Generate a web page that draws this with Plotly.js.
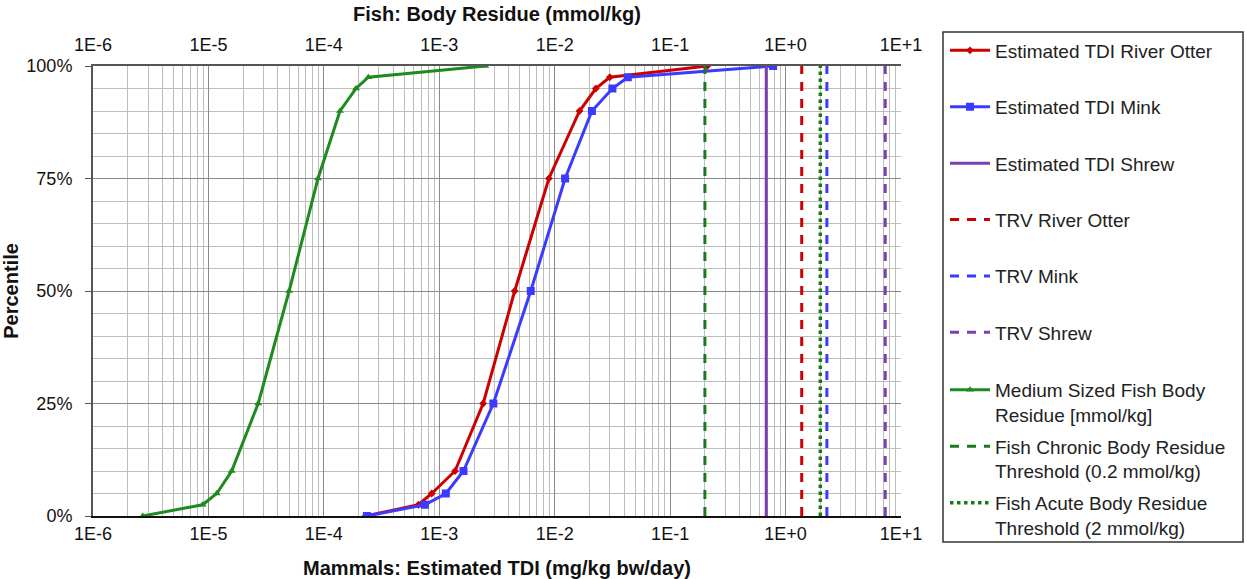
<!DOCTYPE html>
<html><head><meta charset="utf-8">
<script src="https://cdn.plot.ly/plotly-3.0.1.min.js"></script>
<style>html,body{margin:0;padding:0;background:#fff}#chart{width:1247px;height:579px}</style>
</head><body><div id="chart"></div>
<script>
// Percentiles (y) for the distributions
const percentiles = [0, 0.025, 0.05, 0.10, 0.25, 0.50, 0.75, 0.90, 0.95, 0.975, 1.0];
// Mammals: Estimated TDI (mg/kg bw/day)
const otterTDI = [2.3e-4, 6.6e-4, 8.6e-4, 1.37e-3, 2.4e-3, 4.5e-3, 8.9e-3, 1.64e-2, 2.27e-2, 3.0e-2, 0.21];
const minkTDI  = [2.36e-4, 7.5e-4, 1.14e-3, 1.62e-3, 2.94e-3, 6.2e-3, 1.23e-2, 2.1e-2, 3.16e-2, 4.3e-2, 0.78];
const shrewTDI = [0.68, 0.68];
// Fish: Body residue (mmol/kg)
const fishResidue = [2.7e-6, 8.9e-6, 1.18e-5, 1.59e-5, 2.7e-5, 5.0e-5, 8.9e-5, 1.38e-4, 1.9e-4, 2.43e-4, 2.5e-3];
// Vertical reference lines span 0%..100%
const lineSpan = [0, 1];
const trvOtter = [1.38, 1.38];
const trvMink = [2.28, 2.28];
const trvShrew = [7.3, 7.3];
const fishChronic = [0.2, 0.2];
const fishAcute = [2, 2];
// Axis tick labels
const xTickVals = [1e-6, 1e-5, 1e-4, 1e-3, 1e-2, 1e-1, 1, 10];
const xTickText = ["1E-6", "1E-5", "1E-4", "1E-3", "1E-2", "1E-1", "1E+0", "1E+1"];
const yTickVals = [0, 0.25, 0.5, 0.75, 1.0];
const yTickText = ["0%", "25%", "50%", "75%", "100%"];

const minorVals = [];
for (let e = -6; e < 1; e++) for (let d = 2; d <= 9; d++) minorVals.push(d * Math.pow(10, e));

const RED = '#cc0000', BLUE = '#3b3bff', PURPLE = '#7a3fb0', GREEN = '#1f8a1f', DGREEN = '#1a7a1a';
const FONT = '"Liberation Sans", Arial, sans-serif';
const dashPat = '9px,8px';

const traces = [
  {name: 'Estimated TDI River Otter', x: otterTDI, y: percentiles, mode: 'lines+markers',
   line: {color: RED, width: 3}, marker: {symbol: 'diamond', size: 6, color: RED}, legendgroup: 'a'},
  {name: 'Estimated TDI Mink', x: minkTDI, y: percentiles, mode: 'lines+markers',
   line: {color: BLUE, width: 3}, marker: {symbol: 'square', size: 8, color: BLUE}, legendgroup: 'b'},
  {name: 'Estimated TDI Shrew', x: shrewTDI, y: lineSpan, mode: 'lines',
   line: {color: PURPLE, width: 3}, legendgroup: 'c'},
  {name: 'TRV River Otter', x: trvOtter, y: lineSpan, mode: 'lines',
   line: {color: RED, width: 3, dash: dashPat}, legendgroup: 'd'},
  {name: 'TRV Mink', x: trvMink, y: lineSpan, mode: 'lines',
   line: {color: BLUE, width: 3, dash: dashPat}, legendgroup: 'e'},
  {name: 'TRV Shrew', x: trvShrew, y: lineSpan, mode: 'lines',
   line: {color: PURPLE, width: 3, dash: dashPat}, legendgroup: 'f'},
  {name: 'Medium Sized Fish Body<br>Residue [mmol/kg]', x: fishResidue, y: percentiles, mode: 'lines+markers', xaxis: 'x2',
   line: {color: GREEN, width: 3}, marker: {symbol: 'triangle-up', size: 7, color: GREEN}, legendgroup: 'g', legend: 'legend2'},
  {name: 'Fish Chronic Body Residue<br>Threshold (0.2 mmol/kg)', x: fishChronic, y: lineSpan, mode: 'lines', xaxis: 'x2',
   line: {color: DGREEN, width: 3, dash: dashPat}, legendgroup: 'h', legend: 'legend2'},
  {name: 'Fish Acute Body Residue<br>Threshold (2 mmol/kg)', x: fishAcute, y: lineSpan, mode: 'lines', xaxis: 'x2',
   line: {color: DGREEN, width: 3.5, dash: 'dot'}, legendgroup: 'i', legend: 'legend2'}
];

const xCommon = {
  type: 'log', range: [-6, 1], tickmode: 'array', tickvals: xTickVals, ticktext: xTickText,
  showgrid: true, gridcolor: '#8a8a8a', gridwidth: 1,
  minor: {tickmode: 'array', tickvals: minorVals, showgrid: true, gridcolor: '#bdbdbd', gridwidth: 1, ticks: ''},
  tickfont: {family: FONT, size: 18, color: '#111'}, ticks: '', zeroline: false, automargin: false
};

const px2paperX = p => (p - 93) / 808;
const px2paperY = p => (516 - p) / 450;

const legendCommon = {
  xanchor: 'left', yanchor: 'top', borderwidth: 0, bgcolor: 'rgba(0,0,0,0)',
  font: {family: FONT, size: 19, color: '#222'}, valign: 'top', itemwidth: 40, maxheight: 560
};

const layout = {
  width: 1247, height: 579,
  margin: {l: 93, r: 346, t: 66, b: 63},
  paper_bgcolor: '#fff', plot_bgcolor: '#fff',
  font: {family: FONT, color: '#111'},
  showlegend: true,
  xaxis: Object.assign({}, xCommon, {
    title: {text: '<b>Mammals: Estimated TDI (mg/kg bw/day)</b>', font: {family: FONT, size: 20, color: '#111'}, standoff: 18},
    showline: true, linecolor: '#111', linewidth: 2
  }),
  xaxis2: Object.assign({}, xCommon, {
    overlaying: 'x', side: 'top', anchor: 'y', ticklabelstandoff: 6,
    title: {text: '<b>Fish: Body Residue (mmol/kg)</b>', font: {family: FONT, size: 20, color: '#111'}, standoff: 8},
    showline: true, linecolor: '#555', linewidth: 2, showgrid: false,
    minor: {tickmode: 'array', tickvals: minorVals, showgrid: false, ticks: ''}
  }),
  yaxis: {
    range: [0, 1], tickmode: 'array', tickvals: yTickVals, ticktext: yTickText,
    showgrid: true, gridcolor: '#8a8a8a', gridwidth: 1,
    minor: {dtick: 0.05, showgrid: true, gridcolor: '#bdbdbd', gridwidth: 1, ticks: ''},
    ticks: 'outside', ticklen: 6, tickcolor: '#555', ticklabelstandoff: 9,
    tickfont: {family: FONT, size: 18, color: '#111'},
    title: {text: '<b>Percentile</b>', font: {family: FONT, size: 20, color: '#111'}, standoff: 4},
    showline: true, linecolor: '#555', linewidth: 2, mirror: false, zeroline: false, automargin: false
  },
  yaxis2: {overlaying: 'y', side: 'right', range: [0, 1], showgrid: false, showticklabels: false,
    showline: true, linecolor: '#111', linewidth: 2, zeroline: false},
  legend: Object.assign({}, legendCommon, {x: px2paperX(945), y: px2paperY(31.5), tracegroupgap: 28.7}),
  legend2: Object.assign({}, legendCommon, {x: px2paperX(945), y: px2paperY(371), tracegroupgap: 4}),
  shapes: [{
    type: 'rect', xref: 'paper', yref: 'paper', layer: 'above',
    x0: px2paperX(943), x1: px2paperX(1243), y0: px2paperY(542), y1: px2paperY(32),
    line: {color: '#333', width: 1.5}
  }]
};

Plotly.newPlot('chart', traces, layout, {displayModeBar: false, staticPlot: true});
</script>
</body></html>
